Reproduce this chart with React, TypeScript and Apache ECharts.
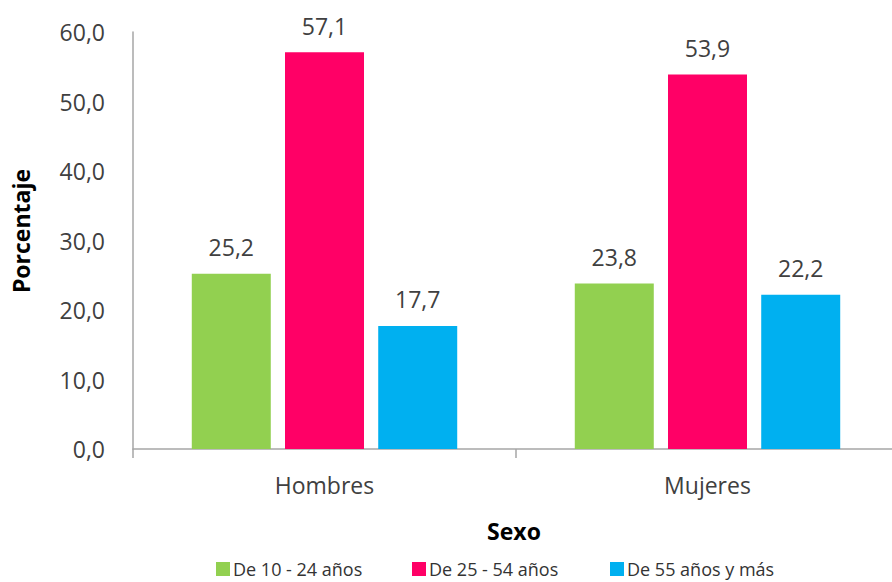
import React, { useEffect, useRef } from "react";
import * as echarts from "echarts";

const categories = ["Hombres", "Mujeres"];
const seriesNames = ["De 10 - 24 años", "De 25 - 54 años", "De 55 años y más"];
const age10to24 = [25.2, 23.8];
const age25to54 = [57.1, 53.9];
const age55plus = [17.7, 22.2];
const colors = ["#92D050", "#FF0066", "#00B0F0"];
const yTicks = { min: 0, max: 60, interval: 10 };
const legendLefts = [216, 412, 610];

const FONT = "'Open Sans', 'Noto Sans', sans-serif";
const fmt = (v: number) => v.toFixed(1).replace(".", ",");

export default function App() {
  const ref = useRef<HTMLDivElement>(null);
  useEffect(() => {
    if (!ref.current) return;
    const chart = echarts.init(ref.current, null, { renderer: "svg" });
    const values = [age10to24, age25to54, age55plus];
    chart.setOption({
      animation: false,
      backgroundColor: "#ffffff",
      textStyle: { fontFamily: FONT },
      grid: { left: 133, right: 1, top: 32, bottom: 133 },
      legend: seriesNames.map((name, i) => ({
        data: [name],
        left: legendLefts[i],
        top: 560,
        itemWidth: 14,
        itemHeight: 14,
        icon: "rect",
        padding: 0,
        textStyle: {
          fontFamily: FONT,
          fontSize: 18,
          lineHeight: 18,
          color: "#333333",
          padding: [0, 0, 0, -2],
        },
      })),
      graphic: [
        {
          type: "text",
          x: 21,
          y: 231,
          rotation: Math.PI / 2,
          style: {
            text: "Porcentaje",
            fontFamily: FONT,
            fontSize: 23,
            fontWeight: "bold",
            fill: "#000000",
            align: "center",
            verticalAlign: "middle",
          },
        },
        {
          type: "text",
          x: 514,
          y: 531,
          style: {
            text: "Sexo",
            fontFamily: FONT,
            fontSize: 23,
            fontWeight: "bold",
            fill: "#000000",
            align: "center",
            verticalAlign: "middle",
          },
        },
      ],
      xAxis: {
        type: "category",
        data: categories,
        axisLine: { lineStyle: { color: "#A6A6A6", width: 1.5 } },
        axisTick: { show: true, length: 9, lineStyle: { color: "#A6A6A6", width: 1.5 } },
        axisLabel: { fontFamily: FONT, fontSize: 23, color: "#404040", margin: 24 },
      },
      yAxis: {
        type: "value",
        min: yTicks.min,
        max: yTicks.max,
        interval: yTicks.interval,
        axisLine: { show: true, lineStyle: { color: "#A6A6A6", width: 1.5 } },
        axisTick: { show: false },
        splitLine: { show: false },
        axisLabel: {
          fontFamily: FONT,
          fontSize: 23,
          color: "#404040",
          margin: 28,
          formatter: (v: number) => fmt(v),
        },
      },
      series: seriesNames.map((name, i) => ({
        name,
        type: "bar",
        data: values[i],
        barWidth: 79,
        barGap: "18%",
        itemStyle: { color: colors[i] },
        label: {
          show: true,
          position: "top",
          distance: 15,
          fontFamily: FONT,
          fontSize: 23,
          color: "#404040",
          formatter: (p: any) => fmt(p.value),
        },
      })),
    });
    return () => chart.dispose();
  }, []);
  return (
    <div
      style={{
        position: "fixed",
        left: 0,
        top: 0,
        width: 892,
        height: 582,
        overflow: "hidden",
        background: "#ffffff",
      }}
    >
      <div ref={ref} style={{ width: 900, height: 582 }} />
    </div>
  );
}
